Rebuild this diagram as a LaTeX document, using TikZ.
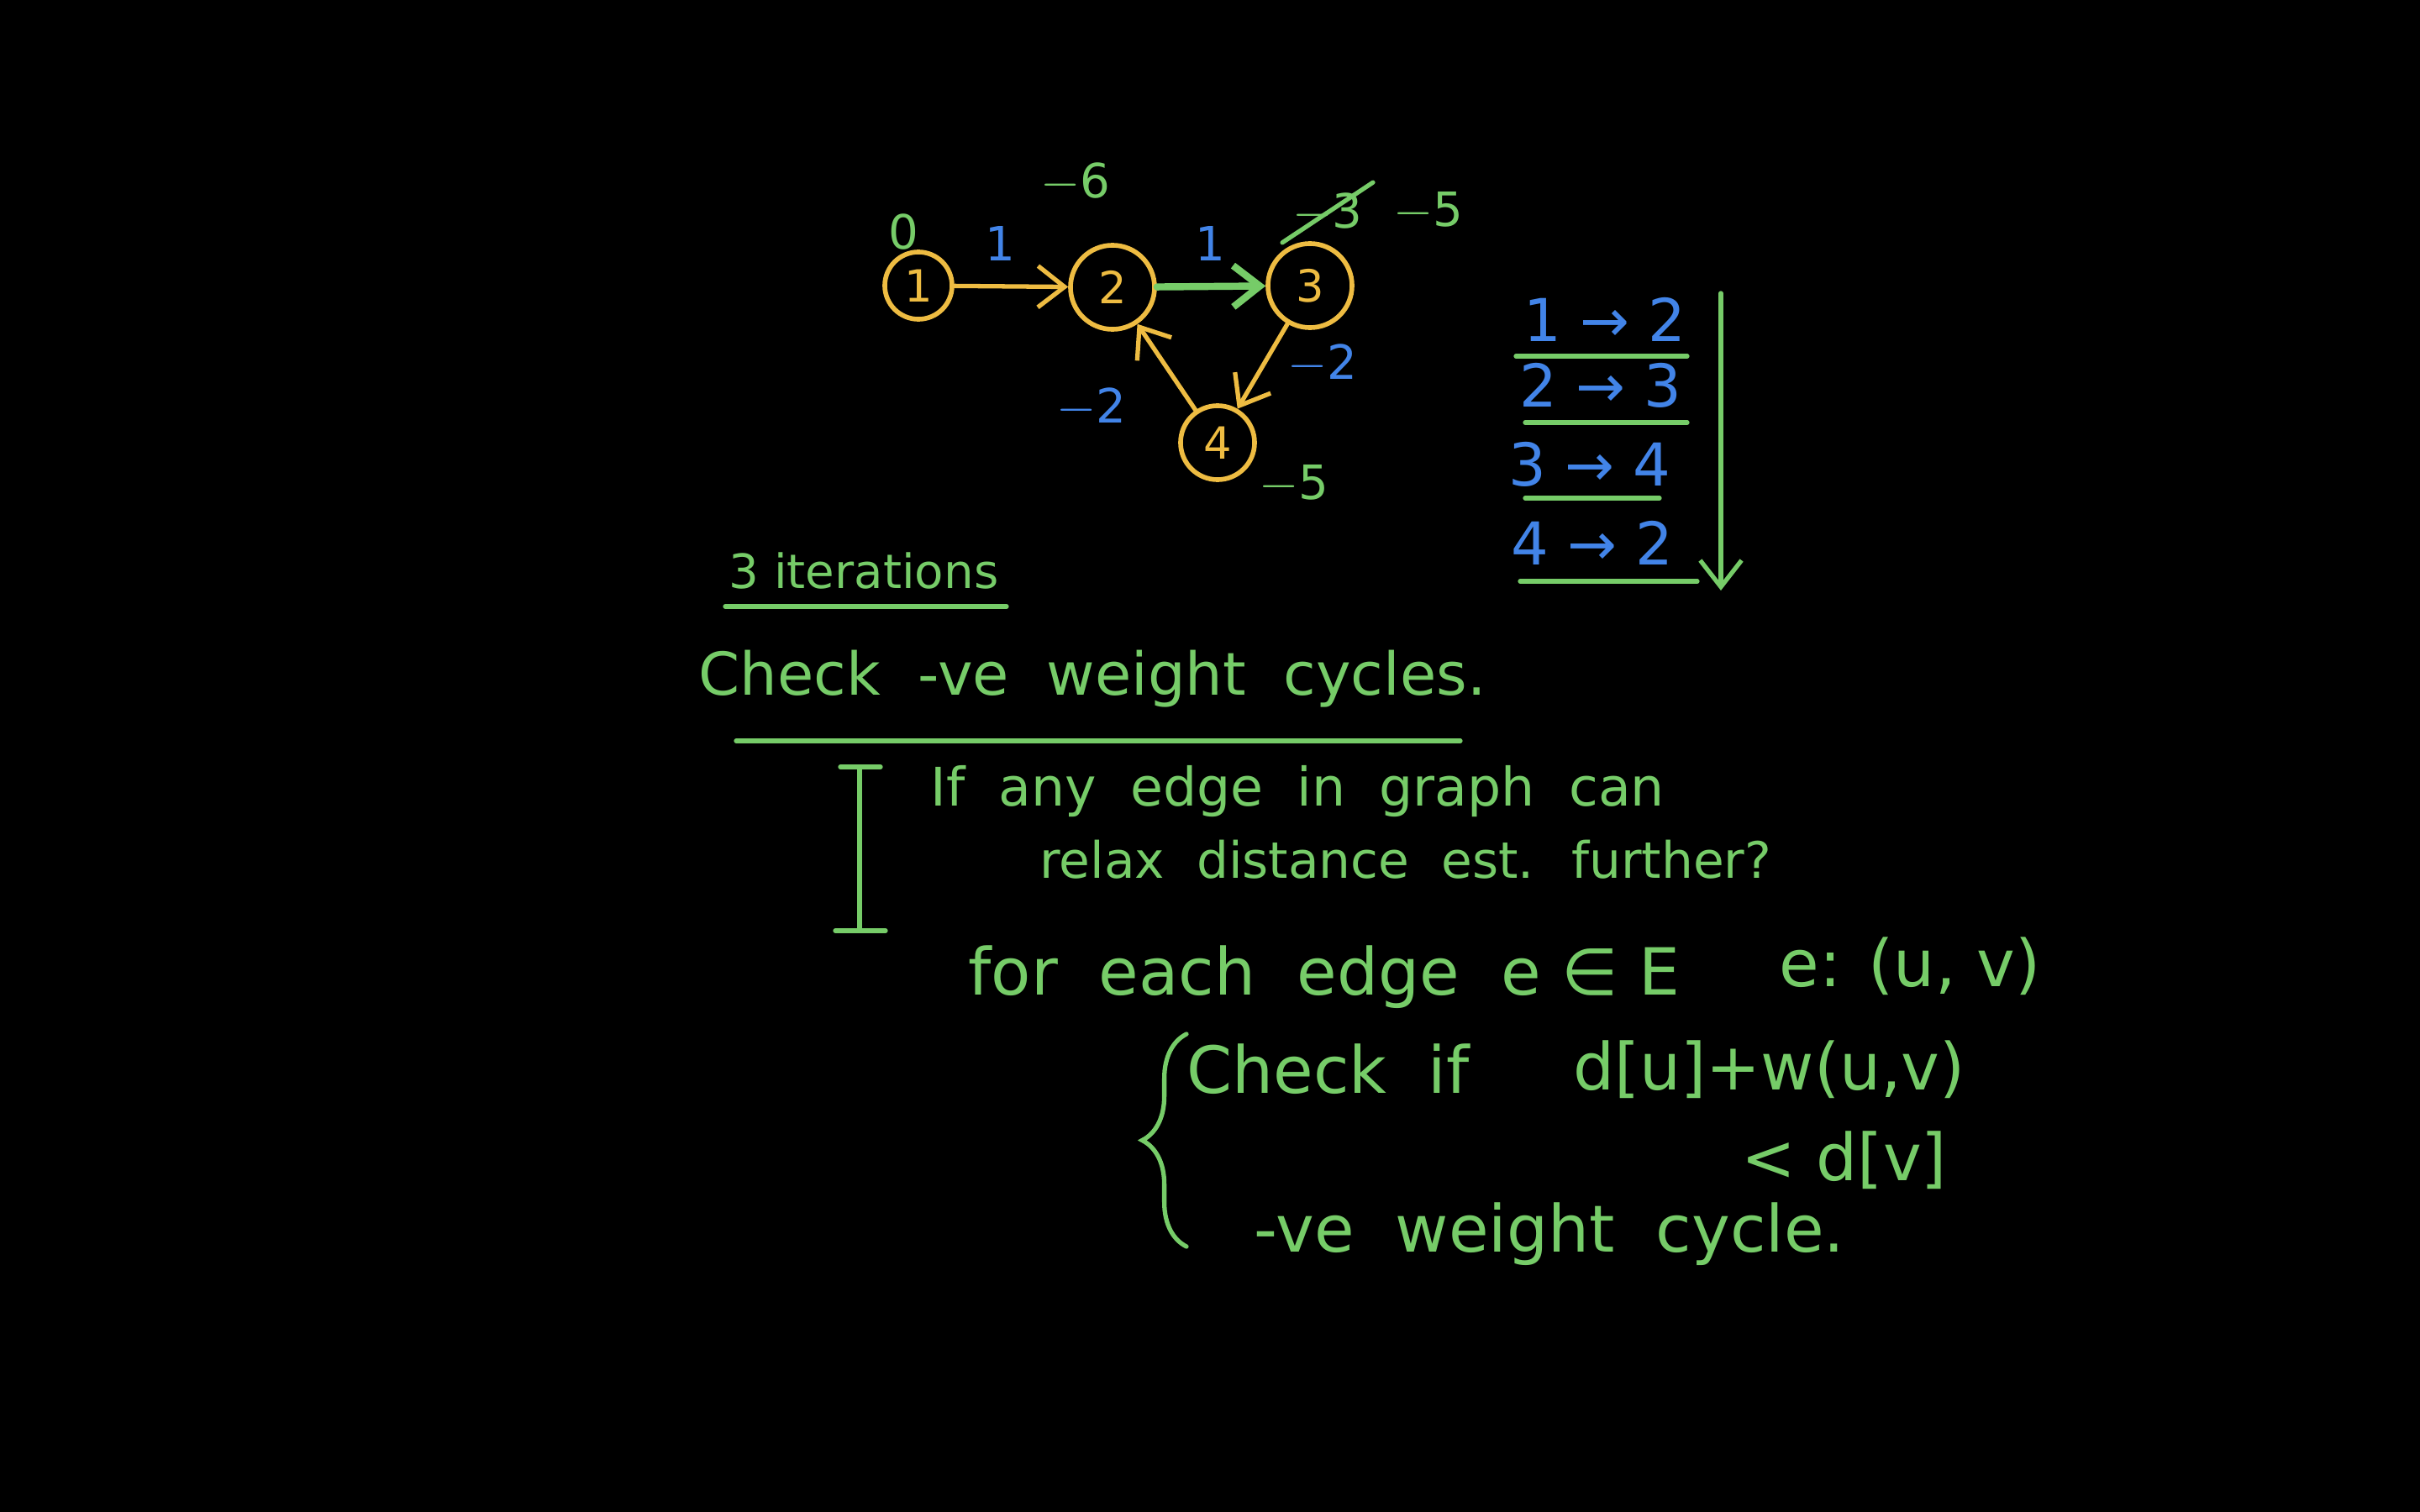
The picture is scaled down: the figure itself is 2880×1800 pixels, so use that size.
\documentclass[tikz,border=0pt]{standalone}
\usepackage{fontspec}
\setmainfont{DejaVu Sans}
\usetikzlibrary{arrows.meta,decorations.pathreplacing}
\definecolor{chalkgreen}{RGB}{118,204,104}
\definecolor{chalkyellow}{RGB}{238,188,66}
\definecolor{chalkblue}{RGB}{66,132,232}

\begin{document}
\begin{tikzpicture}[x=0.01cm,y=-0.01cm,line cap=round,
  >={Straight Barb[length=9pt,width=14pt]},
  vertex/.style={circle,draw=chalkyellow,line width=1.6pt,text=chalkyellow,inner sep=0pt,font=\fontsize{15}{15}\selectfont},
  dist/.style={text=chalkgreen,font=\fontsize{16}{16}\selectfont},
  wt/.style={text=chalkblue,font=\fontsize{16}{16}\selectfont},
  relax/.style={text=chalkblue,font=\fontsize{20}{20}\selectfont},
  chalk/.style={text=chalkgreen,font=\fontsize{22}{22}\selectfont},
  note/.style={text=chalkgreen,font=\fontsize{18}{18}\selectfont},
  stroke/.style={draw=chalkgreen,line width=1.5pt}]
  \fill[black] (0,0) rectangle (2880,1800);

  % graph
  \node[vertex,minimum size=0.8cm] (v1) at (1093,340) {1};
  \node[vertex,minimum size=1.0cm] (v2) at (1324,342) {2};
  \node[vertex,minimum size=1.0cm] (v3) at (1559,340) {3};
  \node[vertex,minimum size=0.88cm] (v4) at (1449,527) {4};
  \draw[->,chalkyellow,line width=1.5pt] (v1) -- (v2);
  \draw[->,chalkgreen,line width=2.4pt] (v2) -- (v3);
  \draw[->,chalkyellow,line width=1.5pt] (v3) -- (v4);
  \draw[->,chalkyellow,line width=1.5pt] (v4) -- (v2);

  \node[dist] (d1) at (1075,276) {0};
  \node[dist] (d2) at (1280,217) {$-$6};
  \node[dist] (d3old) at (1580,253) {$-$3};
  \draw[stroke] (d3old.south west) -- (d3old.north east);
  \node[dist] (d3) at (1700,252) {$-$5};
  \node[dist] (d4) at (1540,577) {$-$5};
  \node[wt] (w12) at (1190,290) {1};
  \node[wt] (w23) at (1440,290) {1};
  \node[wt] (w34) at (1574,433) {$-$2};
  \node[wt] (w42) at (1299,485) {$-$2};

  % relaxation order
  \node[relax] (e12) at (1910,380) {1 → 2};
  \node[relax] (e23) at (1905,459) {2 → 3};
  \node[relax] (e34) at (1892,553) {3 → 4};
  \node[relax] (e42) at (1895,646) {4 → 2};
  \draw[stroke] (1804,424) -- (2008,424);
  \draw[stroke] (1815,503) -- (2008,503);
  \draw[stroke] (1815,593) -- (1975,593);
  \draw[stroke] (1809,692) -- (2020,692);
  \coordinate (passtop) at (2048,349);
  \coordinate (passend) at (2048,703);
  \draw[stroke,->] (passtop) -- (passend);

  % notes
  \node[note,font=\fontsize{16}{16}\selectfont] (iters) at (1028,680) {3 iterations};
  \draw[stroke] (863,722) -- (1198,722);
  \node[chalk,font=\fontsize{20}{20}\selectfont] (title) at (1300,808) {Check \ -ve \ weight \ cycles.};
  \draw[stroke] (876,882) -- (1738,882);
  \draw[stroke] (1000,913) -- (1048,913) (1023,913) -- (1023,1108) (994,1108) -- (1054,1108);
  \node[note,anchor=west] (q1) at (1095,942) {If \ any \ edge \ in \ graph \ can};
  \node[note,anchor=west,font=\fontsize{17}{17}\selectfont] (q2) at (1225,1023) {relax \ distance \ est. \ further?};
  \node[chalk,anchor=west] (loop) at (1140,1163) {for \ each \ edge \ e ∈ E};
  \node[chalk,anchor=west] (edge) at (2105,1150) {e: (u, v)};
  \draw[stroke,decorate,decoration={brace,amplitude=15pt}] (1412,1484) -- (1412,1231);
  \node[chalk,anchor=west] (check) at (1400,1273) {Check \ if};
  \node[chalk,anchor=west] (cond) at (1860,1273) {d[u]+w(u,v)};
  \node[chalk,anchor=west] (cond2) at (2060,1381) {< d[v]};
  \node[chalk,anchor=west] (neg) at (1480,1469) {-ve \ weight \ cycle.};
\end{tikzpicture}
\end{document}
